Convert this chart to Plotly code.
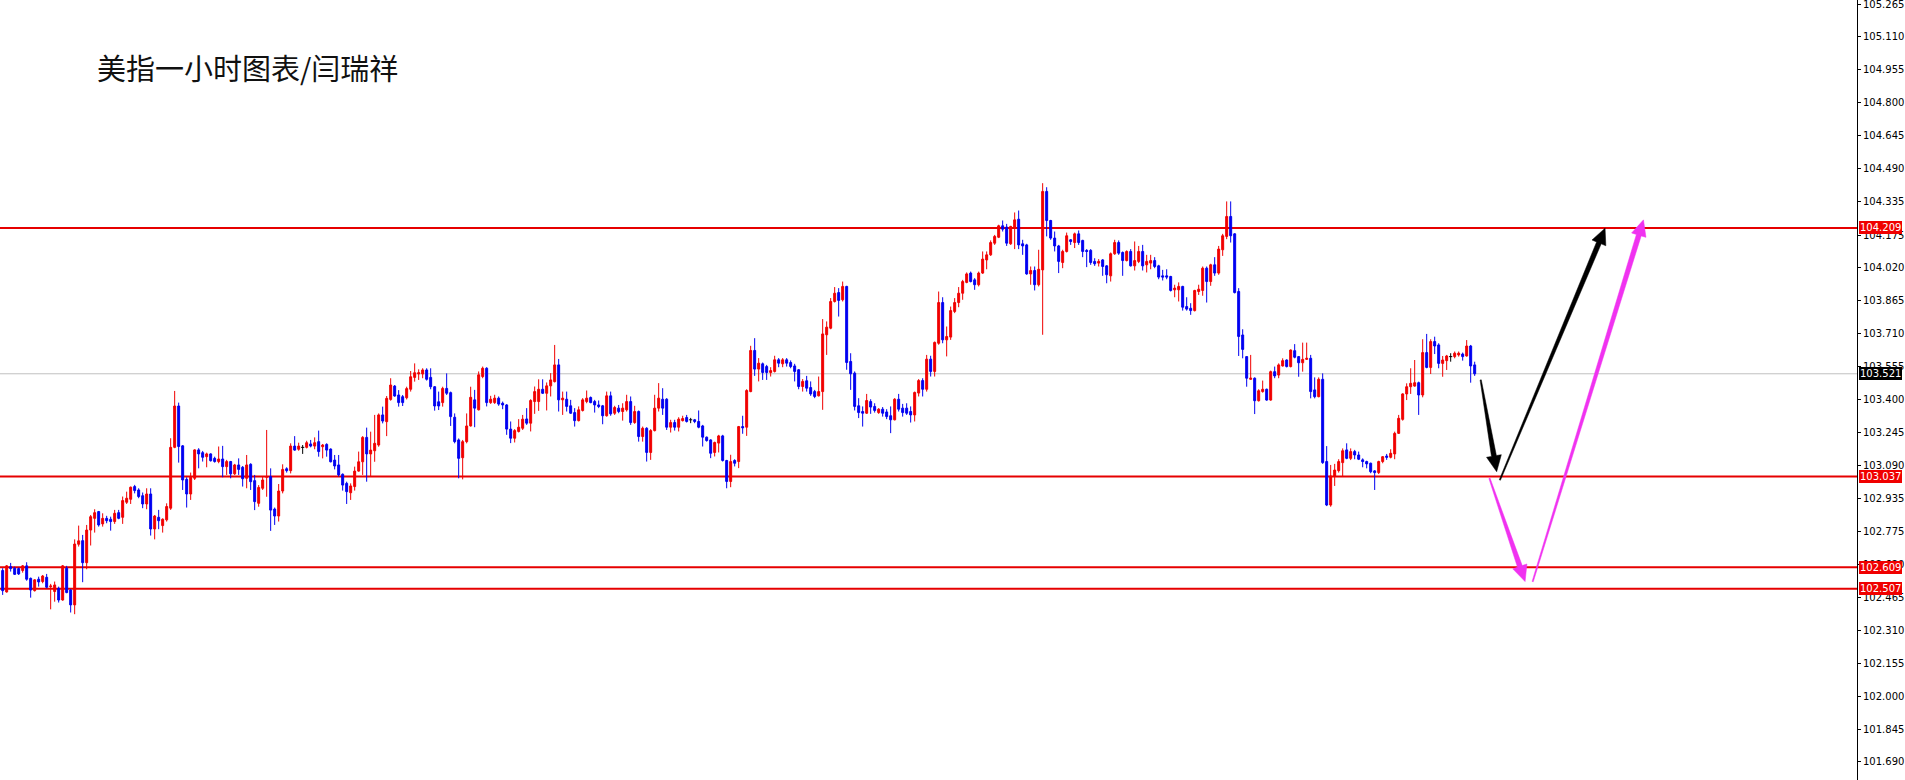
import math
import plotly.graph_objects as go

title_text = "美指一小时图表/闫瑞祥"

opens = [
    102.593, 102.492, 102.611, 102.604, 102.602, 102.593, 102.615, 102.556, 102.498, 102.552,
    102.541, 102.561, 102.517, 102.494, 102.509, 102.454, 102.604, 102.501, 102.431, 102.717,
    102.734, 102.630, 102.784, 102.839, 102.871, 102.813, 102.839, 102.835, 102.824, 102.866,
    102.844, 102.915, 102.929, 102.989, 102.973, 102.946, 102.907, 102.954, 102.789, 102.844,
    102.805, 102.832, 102.887, 103.174, 103.369, 103.181, 103.023, 102.954, 103.028, 103.162,
    103.149, 103.130, 103.143, 103.122, 103.107, 103.119, 103.083, 103.107, 103.049, 103.091,
    103.080, 103.028, 103.094, 103.017, 102.910, 102.981, 103.033, 103.036, 102.883, 102.850,
    102.968, 103.073, 103.064, 103.180, 103.165, 103.174, 103.174, 103.190, 103.180, 103.201,
    103.177, 103.188, 103.166, 103.114, 103.091, 103.047, 103.004, 102.960, 102.989, 103.062,
    103.106, 103.221, 103.143, 103.158, 103.185, 103.327, 103.295, 103.400, 103.463, 103.421,
    103.413, 103.408, 103.448, 103.504, 103.520, 103.520, 103.539, 103.504, 103.460, 103.389,
    103.385, 103.452, 103.432, 103.316, 103.209, 103.125, 103.201, 103.275, 103.398, 103.351,
    103.508, 103.547, 103.385, 103.385, 103.406, 103.382, 103.374, 103.260, 103.217, 103.249,
    103.264, 103.308, 103.288, 103.390, 103.390, 103.448, 103.429, 103.464, 103.484, 103.563,
    103.398, 103.401, 103.370, 103.338, 103.300, 103.348, 103.390, 103.409, 103.390, 103.374,
    103.370, 103.323, 103.417, 103.335, 103.359, 103.343, 103.351, 103.390, 103.291, 103.343,
    103.225, 103.264, 103.150, 103.253, 103.359, 103.401, 103.401, 103.269, 103.291, 103.269,
    103.300, 103.315, 103.304, 103.304, 103.296, 103.275, 103.222, 103.209, 103.150, 103.194,
    103.228, 103.112, 103.013, 103.112, 103.107, 103.272, 103.269, 103.437, 103.631, 103.543,
    103.568, 103.555, 103.527, 103.532, 103.587, 103.568, 103.587, 103.574, 103.558, 103.540,
    103.461, 103.488, 103.456, 103.437, 103.417, 103.437, 103.705, 103.736, 103.862, 103.904,
    103.870, 103.933, 103.579, 103.524, 103.370, 103.343, 103.335, 103.390, 103.367, 103.338,
    103.354, 103.341, 103.323, 103.304, 103.401, 103.359, 103.359, 103.343, 103.327, 103.430,
    103.489, 103.448, 103.590, 103.532, 103.665, 103.857, 103.681, 103.694, 103.815, 103.857,
    103.901, 103.952, 103.996, 103.964, 103.941, 103.996, 104.058, 104.082, 104.137, 104.165,
    104.219, 104.213, 104.134, 104.213, 104.250, 104.134, 104.129, 103.992, 104.008, 103.941,
    104.011, 104.381, 104.244, 104.161, 104.124, 104.046, 104.098, 104.153, 104.140, 104.181,
    104.150, 104.103, 104.103, 104.051, 104.043, 104.058, 104.030, 103.983, 104.087, 104.140,
    104.093, 104.055, 104.098, 104.030, 104.051, 104.098, 104.035, 104.043, 104.055, 104.030,
    103.983, 103.983, 103.980, 103.917, 103.917, 103.933, 103.838, 103.830, 103.819, 103.909,
    103.914, 104.019, 103.956, 104.035, 103.996, 104.106, 104.169, 104.263, 104.181, 103.909,
    103.704, 103.602, 103.495, 103.500, 103.394, 103.437, 103.448, 103.397, 103.531, 103.515,
    103.558, 103.586, 103.555, 103.630, 103.602, 103.573, 103.589, 103.594, 103.445, 103.413,
    103.495, 103.107, 102.902, 103.039, 103.064, 103.102, 103.162, 103.122, 103.154, 103.138,
    103.115, 103.107, 103.099, 103.063, 103.055, 103.107, 103.133, 103.127, 103.143, 103.240,
    103.306, 103.426, 103.460, 103.463, 103.479, 103.421, 103.621, 103.551, 103.673, 103.657,
    103.570, 103.583, 103.602, 103.602, 103.610, 103.614, 103.605, 103.652, 103.563,
]

highs = [
    102.604, 102.619, 102.629, 102.611, 102.607, 102.619, 102.632, 102.560, 102.552, 102.564,
    102.572, 102.577, 102.530, 102.541, 102.517, 102.619, 102.615, 102.505, 102.740, 102.805,
    102.761, 102.808, 102.855, 102.882, 102.874, 102.863, 102.851, 102.847, 102.879, 102.879,
    102.942, 102.965, 102.989, 102.997, 102.981, 102.961, 102.981, 102.981, 102.855, 102.879,
    102.839, 102.910, 103.217, 103.440, 103.385, 103.185, 103.033, 103.055, 103.165, 103.170,
    103.157, 103.149, 103.146, 103.130, 103.178, 103.181, 103.115, 103.110, 103.096, 103.122,
    103.086, 103.138, 103.099, 103.044, 102.996, 103.036, 103.256, 103.075, 102.890, 103.001,
    103.094, 103.080, 103.193, 103.227, 103.196, 103.185, 103.205, 103.209, 103.221, 103.253,
    103.190, 103.193, 103.169, 103.138, 103.138, 103.051, 103.012, 103.004, 103.083, 103.154,
    103.227, 103.267, 103.248, 103.327, 103.334, 103.366, 103.416, 103.500, 103.468, 103.444,
    103.421, 103.460, 103.534, 103.570, 103.542, 103.547, 103.547, 103.547, 103.463, 103.437,
    103.460, 103.523, 103.437, 103.334, 103.216, 103.209, 103.334, 103.460, 103.445, 103.532,
    103.555, 103.552, 103.417, 103.422, 103.414, 103.390, 103.378, 103.296, 103.260, 103.307,
    103.327, 103.359, 103.401, 103.461, 103.495, 103.495, 103.480, 103.524, 103.657, 103.591,
    103.437, 103.437, 103.398, 103.359, 103.367, 103.406, 103.442, 103.414, 103.398, 103.395,
    103.374, 103.437, 103.437, 103.370, 103.374, 103.382, 103.422, 103.414, 103.370, 103.348,
    103.272, 103.269, 103.260, 103.422, 103.477, 103.453, 103.406, 103.304, 103.304, 103.316,
    103.323, 103.327, 103.313, 103.308, 103.348, 103.280, 103.225, 103.212, 103.201, 103.233,
    103.233, 103.115, 103.139, 103.118, 103.275, 103.323, 103.448, 103.653, 103.689, 103.595,
    103.574, 103.563, 103.552, 103.606, 103.595, 103.595, 103.595, 103.584, 103.568, 103.543,
    103.496, 103.511, 103.485, 103.445, 103.508, 103.779, 103.768, 103.878, 103.930, 103.925,
    103.956, 103.936, 103.618, 103.532, 103.406, 103.367, 103.426, 103.401, 103.382, 103.359,
    103.364, 103.354, 103.367, 103.406, 103.426, 103.379, 103.382, 103.367, 103.437, 103.496,
    103.500, 103.610, 103.606, 103.673, 103.909, 103.882, 103.744, 103.838, 103.878, 103.930,
    103.964, 103.999, 104.003, 103.972, 104.003, 104.098, 104.098, 104.150, 104.176, 104.224,
    104.244, 104.228, 104.219, 104.282, 104.291, 104.153, 104.134, 104.027, 104.027, 104.106,
    104.420, 104.401, 104.247, 104.192, 104.129, 104.106, 104.187, 104.156, 104.187, 104.197,
    104.153, 104.109, 104.109, 104.066, 104.062, 104.062, 104.033, 104.093, 104.153, 104.150,
    104.098, 104.103, 104.109, 104.145, 104.124, 104.129, 104.082, 104.082, 104.071, 104.035,
    104.011, 104.014, 103.983, 103.941, 103.952, 103.936, 103.882, 103.854, 103.917, 103.941,
    104.027, 104.027, 104.040, 104.071, 104.124, 104.181, 104.334, 104.334, 104.184, 103.925,
    103.731, 103.602, 103.610, 103.504, 103.448, 103.489, 103.451, 103.536, 103.555, 103.570,
    103.594, 103.589, 103.636, 103.661, 103.605, 103.668, 103.668, 103.610, 103.504, 103.504,
    103.523, 103.180, 103.091, 103.096, 103.118, 103.169, 103.193, 103.169, 103.162, 103.154,
    103.122, 103.111, 103.102, 103.067, 103.111, 103.133, 103.143, 103.165, 103.248, 103.327,
    103.429, 103.476, 103.547, 103.586, 103.484, 103.684, 103.709, 103.684, 103.696, 103.665,
    103.605, 103.610, 103.618, 103.626, 103.626, 103.621, 103.680, 103.657, 103.578,
]

lows = [
    102.478, 102.489, 102.588, 102.572, 102.572, 102.583, 102.545, 102.465, 102.494, 102.517,
    102.533, 102.509, 102.410, 102.446, 102.442, 102.451, 102.486, 102.395, 102.387, 102.706,
    102.538, 102.599, 102.711, 102.772, 102.800, 102.800, 102.816, 102.781, 102.813, 102.835,
    102.813, 102.907, 102.907, 102.957, 102.934, 102.887, 102.882, 102.758, 102.740, 102.788,
    102.772, 102.824, 102.879, 103.170, 103.102, 102.973, 102.890, 102.926, 103.020, 103.075,
    103.107, 103.080, 103.107, 103.102, 103.099, 103.033, 103.044, 103.028, 103.044, 103.044,
    102.989, 102.981, 102.973, 102.878, 102.894, 102.973, 102.941, 102.780, 102.808, 102.824,
    102.957, 103.055, 103.051, 103.158, 103.158, 103.143, 103.169, 103.174, 103.165, 103.130,
    103.122, 103.130, 103.103, 103.070, 103.036, 102.970, 102.907, 102.926, 102.970, 103.059,
    103.044, 103.012, 103.036, 103.106, 103.177, 103.287, 103.227, 103.394, 103.413, 103.366,
    103.369, 103.400, 103.437, 103.484, 103.492, 103.500, 103.489, 103.448, 103.347, 103.350,
    103.366, 103.421, 103.275, 103.193, 103.028, 103.023, 103.193, 103.272, 103.269, 103.348,
    103.500, 103.367, 103.379, 103.379, 103.370, 103.354, 103.233, 103.194, 103.197, 103.244,
    103.256, 103.280, 103.249, 103.332, 103.346, 103.426, 103.348, 103.414, 103.480, 103.343,
    103.327, 103.343, 103.332, 103.272, 103.296, 103.343, 103.382, 103.382, 103.338, 103.359,
    103.283, 103.319, 103.323, 103.327, 103.335, 103.300, 103.343, 103.280, 103.285, 103.201,
    103.201, 103.107, 103.115, 103.249, 103.343, 103.327, 103.256, 103.244, 103.253, 103.249,
    103.296, 103.291, 103.288, 103.288, 103.264, 103.178, 103.201, 103.123, 103.131, 103.150,
    103.107, 102.981, 102.986, 103.084, 103.076, 103.238, 103.228, 103.434, 103.511, 103.485,
    103.492, 103.492, 103.508, 103.527, 103.552, 103.552, 103.555, 103.547, 103.485, 103.448,
    103.437, 103.437, 103.417, 103.406, 103.414, 103.351, 103.610, 103.731, 103.857, 103.791,
    103.862, 103.540, 103.445, 103.348, 103.312, 103.272, 103.332, 103.332, 103.338, 103.332,
    103.319, 103.307, 103.241, 103.301, 103.343, 103.319, 103.327, 103.291, 103.296, 103.414,
    103.414, 103.437, 103.508, 103.508, 103.658, 103.665, 103.603, 103.681, 103.807, 103.835,
    103.870, 103.948, 103.952, 103.917, 103.933, 103.992, 104.014, 104.077, 104.129, 104.161,
    104.192, 104.124, 104.129, 104.109, 104.109, 104.082, 103.988, 103.941, 103.914, 103.933,
    103.705, 104.169, 104.153, 104.098, 103.996, 104.019, 104.093, 104.129, 104.114, 104.129,
    104.071, 104.024, 104.035, 104.030, 104.027, 103.983, 103.948, 103.956, 104.082, 104.082,
    103.983, 104.051, 104.027, 104.008, 104.043, 104.008, 103.999, 104.014, 104.019, 103.967,
    103.961, 103.967, 103.909, 103.882, 103.862, 103.819, 103.819, 103.799, 103.815, 103.893,
    103.889, 103.857, 103.936, 103.983, 103.988, 104.077, 104.156, 104.140, 103.900, 103.605,
    103.594, 103.460, 103.492, 103.331, 103.390, 103.432, 103.394, 103.394, 103.500, 103.500,
    103.555, 103.551, 103.551, 103.594, 103.507, 103.531, 103.586, 103.405, 103.405, 103.410,
    103.096, 102.897, 102.894, 102.992, 103.055, 103.036, 103.118, 103.114, 103.118, 103.114,
    103.080, 103.075, 103.052, 102.973, 103.048, 103.099, 103.115, 103.122, 103.118, 103.237,
    103.300, 103.397, 103.426, 103.460, 103.327, 103.410, 103.547, 103.520, 103.614, 103.547,
    103.507, 103.539, 103.578, 103.594, 103.602, 103.583, 103.602, 103.479, 103.511,
]

closes = [
    102.498, 102.615, 102.602, 102.575, 102.577, 102.615, 102.552, 102.501, 102.549, 102.539,
    102.567, 102.514, 102.520, 102.525, 102.454, 102.615, 102.489, 102.431, 102.718, 102.733,
    102.630, 102.784, 102.847, 102.866, 102.808, 102.839, 102.828, 102.824, 102.863, 102.839,
    102.923, 102.934, 102.986, 102.970, 102.942, 102.907, 102.954, 102.789, 102.850, 102.828,
    102.835, 102.895, 103.174, 103.369, 103.178, 103.020, 102.954, 103.033, 103.162, 103.143,
    103.127, 103.143, 103.111, 103.107, 103.119, 103.083, 103.107, 103.049, 103.091, 103.070,
    103.026, 103.091, 103.012, 102.918, 102.985, 103.020, 103.036, 102.878, 102.850, 102.968,
    103.070, 103.064, 103.180, 103.161, 103.180, 103.174, 103.196, 103.180, 103.196, 103.154,
    103.185, 103.161, 103.106, 103.086, 103.044, 102.996, 102.965, 102.992, 103.062, 103.106,
    103.221, 103.143, 103.161, 103.193, 103.327, 103.298, 103.405, 103.468, 103.416, 103.385,
    103.385, 103.451, 103.507, 103.526, 103.526, 103.539, 103.495, 103.460, 103.369, 103.369,
    103.452, 103.429, 103.319, 103.201, 103.122, 103.201, 103.275, 103.410, 103.359, 103.516,
    103.547, 103.385, 103.401, 103.406, 103.378, 103.374, 103.260, 103.217, 103.253, 103.269,
    103.307, 103.288, 103.395, 103.437, 103.448, 103.429, 103.464, 103.492, 103.563, 103.398,
    103.406, 103.367, 103.335, 103.300, 103.351, 103.398, 103.406, 103.385, 103.374, 103.367,
    103.323, 103.417, 103.332, 103.362, 103.343, 103.359, 103.390, 103.291, 103.343, 103.225,
    103.264, 103.150, 103.253, 103.359, 103.406, 103.359, 103.269, 103.291, 103.269, 103.307,
    103.310, 103.296, 103.304, 103.296, 103.269, 103.222, 103.206, 103.146, 103.197, 103.228,
    103.112, 103.013, 103.107, 103.099, 103.272, 103.266, 103.442, 103.631, 103.543, 103.571,
    103.527, 103.527, 103.536, 103.587, 103.571, 103.587, 103.571, 103.555, 103.532, 103.461,
    103.485, 103.453, 103.426, 103.414, 103.437, 103.709, 103.741, 103.862, 103.901, 103.867,
    103.933, 103.574, 103.521, 103.367, 103.338, 103.335, 103.395, 103.364, 103.348, 103.354,
    103.335, 103.319, 103.304, 103.401, 103.354, 103.338, 103.335, 103.327, 103.433, 103.489,
    103.448, 103.590, 103.532, 103.669, 103.857, 103.681, 103.697, 103.819, 103.857, 103.901,
    103.956, 103.992, 103.956, 103.941, 103.996, 104.062, 104.082, 104.140, 104.169, 104.219,
    104.203, 104.137, 104.216, 104.247, 104.129, 104.124, 103.992, 104.008, 103.941, 104.014,
    104.381, 104.244, 104.161, 104.124, 104.051, 104.098, 104.172, 104.145, 104.181, 104.140,
    104.098, 104.098, 104.046, 104.040, 104.051, 104.027, 103.988, 104.087, 104.140, 104.090,
    104.055, 104.098, 104.030, 104.055, 104.098, 104.030, 104.051, 104.055, 104.027, 103.977,
    103.977, 103.977, 103.914, 103.925, 103.933, 103.835, 103.826, 103.819, 103.914, 103.920,
    104.019, 103.956, 104.035, 103.996, 104.109, 104.172, 104.263, 104.172, 103.904, 103.697,
    103.636, 103.500, 103.500, 103.394, 103.441, 103.448, 103.397, 103.531, 103.511, 103.563,
    103.583, 103.555, 103.633, 103.599, 103.573, 103.589, 103.594, 103.437, 103.413, 103.495,
    103.102, 102.902, 103.039, 103.067, 103.107, 103.158, 103.122, 103.154, 103.138, 103.118,
    103.107, 103.096, 103.059, 103.055, 103.107, 103.130, 103.127, 103.146, 103.240, 103.311,
    103.426, 103.460, 103.476, 103.479, 103.421, 103.621, 103.551, 103.673, 103.652, 103.570,
    103.586, 103.605, 103.602, 103.618, 103.618, 103.602, 103.652, 103.558, 103.521,
]

level_prices = [104.209, 103.037, 102.609, 102.507]
current_price = 103.521
tick_vals = [105.265, 105.110, 104.955, 104.800, 104.645, 104.490, 104.335, 104.175,
             104.020, 103.865, 103.710, 103.555, 103.400, 103.245, 103.090, 102.935,
             102.775, 102.620, 102.465, 102.310, 102.155, 102.000, 101.845, 101.690]
y_range = [101.605, 105.284]
x_range = [-0.667, 463.58]

# forecast arrows: (tail_x, tail_price, tip_x, tip_price)
black_arrows = [(369.5, 103.492, 373.5, 103.059), (374.3, 103.020, 400.6, 104.208)]
magenta_arrows = [(371.7, 103.028, 380.6, 102.541), (382.5, 102.541, 410.2, 104.247)]

UP = "#f00000"
DN = "#0000f0"
LEVEL = "#e60000"
MAGENTA = "#f032f0"

W, H = 1905, 780
MR = 48
PLOT_W = W - MR
PLOT_H = H

n = len(closes)
idx = list(range(n))
doji = [i for i in idx if abs(opens[i] - closes[i]) < 1e-9]
main = [i for i in idx if i not in doji]

fig = go.Figure()
fig.add_trace(go.Candlestick(
    x=main,
    open=[opens[i] for i in main],
    high=[highs[i] for i in main],
    low=[lows[i] for i in main],
    close=[closes[i] for i in main],
    increasing=dict(line=dict(color=UP, width=1), fillcolor=UP),
    decreasing=dict(line=dict(color=DN, width=1), fillcolor=DN),
    whiskerwidth=0,
    hoverinfo="skip",
))

# doji candles in black
dx, dy = [], []
for i in doji:
    dx += [i, i, None, i - 0.4, i + 0.4, None]
    dy += [lows[i], highs[i], None, opens[i], opens[i], None]
fig.add_trace(go.Scatter(x=dx, y=dy, mode="lines", line=dict(color="black", width=1),
                         hoverinfo="skip"))

# arrows as tapered polygons
sx = PLOT_W / (x_range[1] - x_range[0])
sy = PLOT_H / (y_range[1] - y_range[0])


def arrow_poly(x0, y0, x1, y1, tail_w, shaft_w, head_len, head_hw):
    X0, Y0, X1, Y1 = x0 * sx, y0 * sy, x1 * sx, y1 * sy
    ddx, ddy = X1 - X0, Y1 - Y0
    L = math.hypot(ddx, ddy)
    ux, uy = ddx / L, ddy / L
    nx, ny = -uy, ux
    bx, by = X1 - ux * head_len, Y1 - uy * head_len
    pts = [
        (X0 + nx * tail_w / 2, Y0 + ny * tail_w / 2),
        (bx + nx * shaft_w / 2, by + ny * shaft_w / 2),
        (bx + nx * head_hw, by + ny * head_hw),
        (X1, Y1),
        (bx - nx * head_hw, by - ny * head_hw),
        (bx - nx * shaft_w / 2, by - ny * shaft_w / 2),
        (X0 - nx * tail_w / 2, Y0 - ny * tail_w / 2),
    ]
    pts.append(pts[0])
    return [p[0] / sx for p in pts], [p[1] / sy for p in pts]


for (a, b, c, d) in black_arrows:
    px, py = arrow_poly(a, b, c, d, 1.2, 5, 16, 7.5)
    fig.add_trace(go.Scatter(x=px, y=py, mode="lines", fill="toself", fillcolor="black",
                             line=dict(color="black", width=0.5), hoverinfo="skip"))
for (a, b, c, d) in magenta_arrows:
    px, py = arrow_poly(a, b, c, d, 1.2, 5, 16, 7.5)
    fig.add_trace(go.Scatter(x=px, y=py, mode="lines", fill="toself", fillcolor=MAGENTA,
                             line=dict(color=MAGENTA, width=0.5), hoverinfo="skip"))

shapes = []
for p in level_prices:
    shapes.append(dict(type="line", xref="paper", x0=0, x1=1, yref="y", y0=p, y1=p,
                       line=dict(color=LEVEL, width=2), layer="below"))
shapes.append(dict(type="line", xref="paper", x0=0, x1=1, yref="y", y0=current_price,
                   y1=current_price, line=dict(color="#c0c0c0", width=1), layer="below"))

annotations = [dict(text=title_text, xref="paper", yref="paper", x=95 / PLOT_W, y=1 - 67 / PLOT_H,
                    xanchor="left", yanchor="middle", showarrow=False,
                    font=dict(family="Noto Sans CJK SC", size=29, color="#111111"))]
for p in level_prices:
    annotations.append(dict(text=f"{p:.3f}", xref="paper", yref="y", x=1, y=p, xanchor="left",
                            yanchor="middle", xshift=2, showarrow=False, bgcolor="#f00000",
                            borderpad=1, borderwidth=0,
                            font=dict(family="DejaVu Sans", size=10, color="white")))
annotations.append(dict(text=f"{current_price:.3f}", xref="paper", yref="y", x=1, y=current_price,
                        xanchor="left", yanchor="middle", xshift=2, showarrow=False,
                        bgcolor="black", borderpad=1, borderwidth=0,
                        font=dict(family="DejaVu Sans", size=10, color="white")))

fig.update_layout(
    width=W, height=H,
    margin=dict(l=0, r=MR, t=0, b=0, pad=0),
    paper_bgcolor="white", plot_bgcolor="white",
    showlegend=False,
    shapes=shapes,
    annotations=annotations,
    xaxis=dict(range=x_range, visible=False, showgrid=False, zeroline=False,
               rangeslider=dict(visible=False), fixedrange=True),
    yaxis=dict(range=y_range, side="right", showgrid=False, zeroline=False,
               showline=True, linecolor="black", linewidth=1,
               ticks="outside", ticklen=3, tickcolor="black",
               tickvals=tick_vals, tickformat=".3f", ticklabeloverflow="allow",
               tickfont=dict(family="DejaVu Sans", size=10, color="black"),
               fixedrange=True),
)

fig.write_html("out.html", config={"displayModeBar": False},
               post_script="document.body.style.margin='0';document.body.style.overflow='hidden';")
